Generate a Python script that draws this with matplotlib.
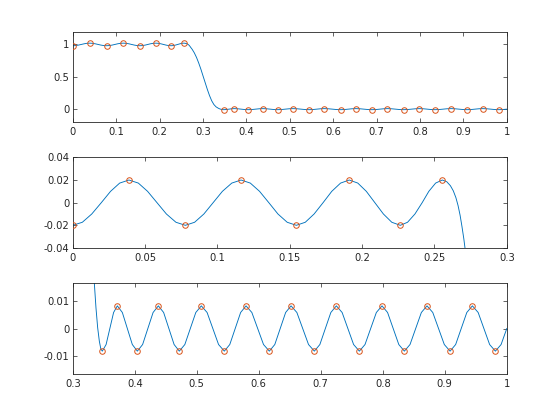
import numpy as np
import matplotlib
matplotlib.use("Agg")
import matplotlib.pyplot as plt

# ---------------- data ----------------
# passband: deviation of the response from 1
pass_f = [0.0000, 0.0066, 0.0131, 0.0197, 0.0261, 0.0324, 0.0388,
          0.0453, 0.0517, 0.0582, 0.0647, 0.0713, 0.0778,
          0.0842, 0.0906, 0.0970, 0.1034, 0.1099, 0.1163,
          0.1227, 0.1291, 0.1355, 0.1418, 0.1482, 0.1545,
          0.1607, 0.1668, 0.1730, 0.1790, 0.1851, 0.1911,
          0.1970, 0.2029, 0.2088, 0.2147, 0.2205, 0.2264,
          0.2314, 0.2365, 0.2415, 0.2461, 0.2508, 0.2554]
pass_err = [-0.0200, -0.0173, -0.0100, 0.0000, 0.0100, 0.0173, 0.0200,
            0.0173, 0.0100, 0.0000, -0.0100, -0.0173, -0.0200,
            -0.0173, -0.0100, 0.0000, 0.0100, 0.0173, 0.0200,
            0.0173, 0.0100, 0.0000, -0.0100, -0.0173, -0.0200,
            -0.0173, -0.0100, 0.0000, 0.0100, 0.0173, 0.0200,
            0.0173, 0.0100, 0.0000, -0.0100, -0.0173, -0.0200,
            -0.0173, -0.0100, 0.0000, 0.0100, 0.0173, 0.0200]

# transition band: response
trans_f = [0.2585, 0.2610, 0.2630, 0.2648, 0.2663, 0.2677, 0.2690, 0.2703,
           0.2715, 0.2750, 0.2800, 0.2850, 0.2900, 0.2950, 0.3000, 0.3050,
           0.3100, 0.3150, 0.3200, 0.3250, 0.3300, 0.3347, 0.3374, 0.3401,
           0.3428, 0.3452]
trans_H = [1.0185, 1.0150, 1.0105, 1.0045, 0.9975, 0.9890, 0.9790, 0.9680,
           0.9560, 0.9250, 0.8700, 0.8000, 0.7150, 0.6200, 0.5150, 0.4100,
           0.3050, 0.2100, 0.1300, 0.0720, 0.0360, 0.0165, 0.0074, 0.0003,
           -0.0046, -0.0074]

# stopband: response
stop_f = [0.3476, 0.3537, 0.3597, 0.3658, 0.3718,
          0.3799, 0.3880, 0.3960, 0.4041,
          0.4126, 0.4211, 0.4295, 0.4380,
          0.4465, 0.4549, 0.4634, 0.4718,
          0.4807, 0.4896, 0.4984, 0.5073,
          0.5166, 0.5259, 0.5351, 0.5444,
          0.5532, 0.5619, 0.5707, 0.5794,
          0.5888, 0.5982, 0.6076, 0.6170,
          0.6258, 0.6345, 0.6433, 0.6520,
          0.6614, 0.6708, 0.6802, 0.6896,
          0.6985, 0.7074, 0.7162, 0.7251,
          0.7344, 0.7437, 0.7529, 0.7622,
          0.7713, 0.7805, 0.7896, 0.7987,
          0.8077, 0.8168, 0.8258, 0.8348,
          0.8439, 0.8531, 0.8622, 0.8713,
          0.8806, 0.8899, 0.8992, 0.9085,
          0.9175, 0.9265, 0.9355, 0.9445,
          0.9538, 0.9631, 0.9723, 0.9816,
          0.9908, 1.0000]
stop_H = [-0.0082, -0.0058, 0.0000, 0.0058, 0.0082,
          0.0058, 0.0000, -0.0058, -0.0082,
          -0.0058, 0.0000, 0.0058, 0.0082,
          0.0058, 0.0000, -0.0058, -0.0082,
          -0.0058, 0.0000, 0.0058, 0.0082,
          0.0058, 0.0000, -0.0058, -0.0082,
          -0.0058, 0.0000, 0.0058, 0.0082,
          0.0058, 0.0000, -0.0058, -0.0082,
          -0.0058, 0.0000, 0.0058, 0.0082,
          0.0058, 0.0000, -0.0058, -0.0082,
          -0.0058, 0.0000, 0.0058, 0.0082,
          0.0058, 0.0000, -0.0058, -0.0082,
          -0.0058, 0.0000, 0.0058, 0.0082,
          0.0058, 0.0000, -0.0058, -0.0082,
          -0.0058, 0.0000, 0.0058, 0.0082,
          0.0058, 0.0000, -0.0058, -0.0082,
          -0.0058, 0.0000, 0.0058, 0.0082,
          0.0058, 0.0000, -0.0058, -0.0082,
          -0.0058, 0.0000]

# extremal points (markers)
pass_ext_f = [0.0000, 0.0388, 0.0778, 0.1163, 0.1545, 0.1911, 0.2264, 0.2554]
pass_ext_err = [-0.02, 0.02, -0.02, 0.02, -0.02, 0.02, -0.02, 0.02]
stop_ext_f = [0.3476, 0.3718, 0.4041, 0.4380, 0.4718, 0.5073, 0.5444, 0.5794,
              0.6170, 0.6520, 0.6896, 0.7251, 0.7622, 0.7987, 0.8348, 0.8713,
              0.9085, 0.9445, 0.9816]
stop_ext_H = [-0.0082, 0.0082, -0.0082, 0.0082, -0.0082, 0.0082, -0.0082,
              0.0082, -0.0082, 0.0082, -0.0082, 0.0082, -0.0082, 0.0082,
              -0.0082, 0.0082, -0.0082, 0.0082, -0.0082]

top_xticks = [0, 0.1, 0.2, 0.3, 0.4, 0.5, 0.6, 0.7, 0.8, 0.9, 1]
top_yticks = [0, 0.5, 1]
mid_xticks = [0, 0.05, 0.1, 0.15, 0.2, 0.25, 0.3]
mid_yticks = [-0.04, -0.02, 0, 0.02, 0.04]
bot_xticks = [0.3, 0.4, 0.5, 0.6, 0.7, 0.8, 0.9, 1]
bot_yticks = [-0.01, 0, 0.01]

# ---------------- assemble ----------------
f_all = np.concatenate([pass_f, trans_f, stop_f])
H_all = np.concatenate([1 + np.asarray(pass_err), trans_H, stop_H])

plt.rcParams['font.family'] = ['DejaVu Sans']
plt.rcParams['font.size'] = 7.2
plt.rcParams['axes.unicode_minus'] = False

LINE = '#0072BD'
MARK = '#D95319'
AX = '#262626'

fig = plt.figure(figsize=(5.6, 4.2), dpi=100)
positions = [[0.13, 0.7093, 0.775, 0.2157],
             [0.13, 0.4096, 0.775, 0.2157],
             [0.13, 0.1100, 0.775, 0.2157]]
axes = [fig.add_axes(p) for p in positions]

def fmt(v):
    s = ('%.4f' % v).rstrip('0').rstrip('.')
    return '0' if s in ('-0', '') else s

def style(ax, xt, yt, xl, yl):
    ax.set_xlim(*xl)
    ax.set_ylim(*yl)
    ax.set_xticks(xt)
    ax.set_xticklabels([fmt(v) for v in xt])
    ax.set_yticks(yt)
    ax.set_yticklabels([fmt(v) for v in yt])
    ax.tick_params(direction='in', length=3, width=0.5, colors=AX,
                   top=True, right=True, labelsize=7.2)
    ax.tick_params(axis='x', pad=3.5)
    ax.tick_params(axis='y', pad=2.5)
    for s in ax.spines.values():
        s.set_color(AX)
        s.set_linewidth(0.6)

mk = dict(linestyle='none', marker='o', markersize=4.0, markerfacecolor='none',
          markeredgecolor=MARK, markeredgewidth=0.7, zorder=3)

ax = axes[0]
ax.plot(f_all, H_all, color=LINE, lw=0.65)
ax.plot(pass_ext_f, 1 + np.asarray(pass_ext_err), **mk)
ax.plot(stop_ext_f, stop_ext_H, **mk)
style(ax, top_xticks, top_yticks, (0, 1), (-0.2, 1.2))

ax = axes[1]
ax.plot(f_all, H_all - 1, color=LINE, lw=0.65)
ax.plot(pass_ext_f, pass_ext_err, **mk)
style(ax, mid_xticks, mid_yticks, (0, 0.3), (-0.04, 0.04))

ax = axes[2]
ax.plot(f_all, H_all, color=LINE, lw=0.65)
ax.plot(stop_ext_f, stop_ext_H, **mk)
style(ax, bot_xticks, bot_yticks, (0.3, 1), (-0.0164, 0.0164))

fig.savefig('out.png', dpi=100)
